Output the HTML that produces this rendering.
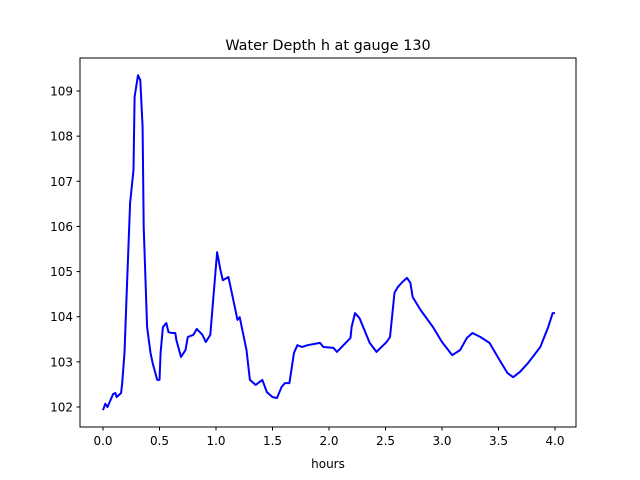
<!DOCTYPE html>
<html><head><meta charset="utf-8"><style>
body{margin:0;background:#fff;}
svg{display:block;font-family:"DejaVu Sans","Liberation Sans",sans-serif;}
</style></head><body>
<svg id="c" width="640" height="480">
<rect width="640" height="480" fill="#fff"/>
<text x="328" y="50" font-size="14.4" text-anchor="middle">Water Depth h at gauge 130</text>
<text x="328" y="468" font-size="12" text-anchor="middle">hours</text>
<g id="ticks"></g>
<polyline id="line" fill="none" stroke="#0000ff" stroke-width="2" stroke-linejoin="round"/>
<rect x="80" y="58" width="496" height="369" fill="none" stroke="#000" stroke-width="1"/>
</svg>
<script>
const hours=[0.00,0.02,0.04,0.09,0.11,0.12,0.16,0.17,0.19,0.21,0.24,0.27,0.28,0.31,0.33,0.35,0.36,0.39,0.42,0.44,0.48,0.50,0.51,0.53,0.56,0.58,0.61,0.64,0.65,0.69,0.73,0.75,0.80,0.83,0.88,0.91,0.95,0.97,1.01,1.04,1.06,1.11,1.14,1.19,1.21,1.27,1.30,1.35,1.41,1.45,1.50,1.54,1.58,1.61,1.65,1.69,1.72,1.76,1.81,1.92,1.95,2.04,2.07,2.19,2.20,2.23,2.27,2.36,2.42,2.51,2.54,2.58,2.61,2.65,2.69,2.72,2.74,2.81,2.92,3.00,3.09,3.16,3.22,3.27,3.34,3.42,3.51,3.58,3.63,3.69,3.76,3.87,3.94,3.98,4.00];
const depth=[101.93,102.07,102.00,102.29,102.31,102.22,102.31,102.53,103.20,104.53,106.52,107.25,108.87,109.35,109.24,108.20,105.99,103.77,103.20,102.97,102.60,102.60,103.20,103.77,103.86,103.66,103.64,103.64,103.48,103.11,103.26,103.55,103.60,103.73,103.60,103.44,103.60,104.22,105.43,105.03,104.81,104.88,104.53,103.93,103.99,103.26,102.60,102.49,102.60,102.33,102.22,102.20,102.44,102.53,102.53,103.20,103.37,103.33,103.37,103.42,103.33,103.31,103.22,103.53,103.77,104.08,103.97,103.42,103.22,103.44,103.55,104.53,104.66,104.77,104.86,104.75,104.44,104.15,103.77,103.44,103.15,103.26,103.53,103.64,103.55,103.42,103.04,102.75,102.66,102.78,102.97,103.33,103.77,104.08,104.08];
const xTicks=[0.0,0.5,1.0,1.5,2.0,2.5,3.0,3.5,4.0];
const yTicks=[102,103,104,105,106,107,108,109];
function sx(v){return 103+v*113;}
function sy(v){return 407-(v-102)*45.14;}
const NS="http://www.w3.org/2000/svg";
const g=document.getElementById('ticks');
xTicks.forEach(t=>{
  const l=document.createElementNS(NS,'line');
  l.setAttribute('x1',sx(t));l.setAttribute('x2',sx(t));l.setAttribute('y1',427);l.setAttribute('y2',430.5);l.setAttribute('stroke','#000');
  
  
  g.appendChild(l);
  const tx=document.createElementNS(NS,'text');
  tx.setAttribute('x',sx(t));tx.setAttribute('y',445);tx.setAttribute('font-size','12');tx.setAttribute('text-anchor','middle');
  tx.textContent=t.toFixed(1);
  
  
  g.appendChild(tx);
});
yTicks.forEach(t=>{
  const l=document.createElementNS(NS,'line');
  l.setAttribute('x1',76.5);l.setAttribute('x2',80);l.setAttribute('y1',sy(t));l.setAttribute('y2',sy(t));l.setAttribute('stroke','#000');
  
  
  g.appendChild(l);
  const tx=document.createElementNS(NS,'text');
  tx.setAttribute('x',73);tx.setAttribute('y',sy(t)+4.5);tx.setAttribute('font-size','12');tx.setAttribute('text-anchor','end');
  tx.textContent=String(t);
  
  
  g.appendChild(tx);
});
document.getElementById('line').setAttribute('points',hours.map((h,i)=>sx(h).toFixed(1)+','+sy(depth[i]).toFixed(1)).join(' '));
</script>
</body></html>
